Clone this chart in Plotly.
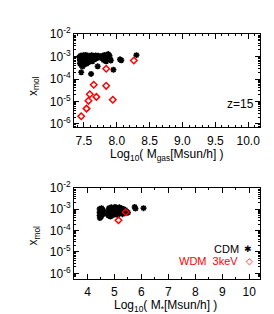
import plotly.graph_objects as go

# ---------------- data ----------------
# Top panel: x_mol vs log10 M_gas
cdm_gas_x = [7.43, 7.44, 7.44, 7.45, 7.45, 7.46, 7.46, 7.47, 7.47, 7.48, 7.48, 7.49, 7.49,
             7.50, 7.50, 7.51, 7.51, 7.52, 7.52, 7.53, 7.53, 7.54, 7.54, 7.55, 7.55, 7.56,
             7.57, 7.57, 7.58, 7.59, 7.59, 7.60, 7.61, 7.62, 7.62, 7.63, 7.64, 7.65, 7.66,
             7.67, 7.68, 7.69, 7.70, 7.71, 7.72, 7.74, 7.76, 7.78, 7.79, 7.80, 7.81, 7.82,
             7.83, 7.84, 7.85, 7.86, 7.87, 7.88, 7.89, 7.90, 7.91,
             7.46, 7.61, 7.71, 7.95, 8.05, 8.07, 8.30]
cdm_gas_y = [9.5e-4, 7e-4, 5e-4, 1.1e-3, 8e-4, 6e-4, 4.2e-4, 1.0e-3, 7.5e-4, 5.5e-4, 3.6e-4,
             1.15e-3, 8.5e-4, 6.5e-4, 4.5e-4, 1.0e-3, 7.2e-4, 5.2e-4, 9e-4, 1.2e-3, 6.2e-4,
             8e-4, 4.8e-4, 1.05e-3, 6.8e-4, 9.2e-4, 5.6e-4, 7.8e-4, 1.1e-3, 8.6e-4, 6.5e-4,
             1.0e-3, 7.2e-4, 9e-4, 1.15e-3, 6.2e-4, 8.2e-4, 1.05e-3, 7.5e-4, 9.5e-4, 1.12e-3,
             8.5e-4, 1.0e-3, 9e-4, 1.1e-3, 9.5e-4, 1.05e-3, 8.5e-4, 1.1e-3, 7e-4, 9.5e-4,
             1.2e-3, 8e-4, 6.2e-4, 1.0e-3, 7.5e-4, 1.3e-3, 9e-4, 1.1e-3, 8e-4, 6.7e-4,
             2.0e-4, 1.7e-4, 3.7e-4, 2.6e-4, 7.6e-4, 6.9e-4, 1.17e-3]
wdm_gas_x = [7.46, 7.54, 7.57, 7.59, 7.65, 7.69, 7.84, 7.84, 7.94, 8.26]
wdm_gas_y = [2.2e-6, 4.8e-6, 1.07e-5, 2.1e-5, 5.6e-5, 1.6e-5, 5.0e-5, 2.9e-4, 1.2e-5, 6.7e-4]

# Bottom panel: x_mol vs log10 M_*
cdm_star_x = [4.45, 4.45, 4.45, 4.46, 4.48, 4.49, 4.50, 4.52, 4.53, 4.55, 4.57, 4.60, 4.65,
              4.70, 4.75, 4.78, 4.80, 4.82, 4.83, 4.85, 4.88, 4.90, 4.92, 4.95, 4.97, 5.00,
              5.02, 5.04, 5.06, 5.08, 5.10, 5.12, 5.14, 5.16, 5.18, 5.20, 5.22, 5.25, 5.27,
              5.30, 5.32, 5.35, 5.38, 5.40, 5.45, 5.50, 5.75, 5.78, 6.08]
cdm_star_y = [1.0e-3, 7e-4, 5e-4, 3.8e-4, 8.5e-4, 6e-4, 4.3e-4, 1.1e-3, 7.5e-4, 5.5e-4, 9e-4,
              6.5e-4, 7e-4, 6e-4, 7.5e-4, 5e-4, 1.1e-3, 8.5e-4, 6.3e-4, 4.5e-4, 1.2e-3, 9e-4,
              7e-4, 5.2e-4, 1.05e-3, 8e-4, 1.25e-3, 6e-4, 9.5e-4, 1.15e-3, 7.2e-4, 5.2e-4,
              1.0e-3, 8.5e-4, 1.2e-3, 6.5e-4, 9.5e-4, 1.1e-3, 7.8e-4, 5.8e-4, 1.0e-3, 8.2e-4,
              6.5e-4, 9.2e-4, 7.5e-4, 6.8e-4, 1.25e-3, 1.05e-3, 1.1e-3]
wdm_star_x = [5.15, 5.42]
wdm_star_y = [3.0e-4, 7.1e-4]

y_tickvals = [1e-6, 1e-5, 1e-4, 1e-3, 1e-2]
y_ticktext = ["10<sup>-6</sup>", "10<sup>-5</sup>", "10<sup>-4</sup>", "10<sup>-3</sup>", "10<sup>-2</sup>"]
top_x_ticks = [7.5, 8.0, 8.5, 9.0, 9.5, 10.0]
top_x_text = ["7.5", "8.0", "8.5", "9.0", "9.5", "10.0"]
bot_x_ticks = [4, 5, 6, 7, 8, 9, 10]
bot_x_text = ["4", "5", "6", "7", "8", "9", "10"]

# ---------------- figure ----------------
FONT = "Liberation Sans, Arial, sans-serif"
fig = go.Figure()

cdm_marker = dict(symbol="asterisk-open", size=5, color="black", line=dict(color="black", width=1.6))
wdm_marker = dict(symbol="diamond-open", size=5, color="red", line=dict(color="red", width=1.5))

fig.add_trace(go.Scatter(x=cdm_gas_x, y=cdm_gas_y, mode="markers", marker=cdm_marker,
                         xaxis="x", yaxis="y", showlegend=False))
fig.add_trace(go.Scatter(x=wdm_gas_x, y=wdm_gas_y, mode="markers", marker=wdm_marker,
                         xaxis="x", yaxis="y", showlegend=False))
fig.add_trace(go.Scatter(x=cdm_star_x, y=cdm_star_y, mode="markers", marker=cdm_marker,
                         xaxis="x2", yaxis="y2", showlegend=False))
fig.add_trace(go.Scatter(x=wdm_star_x, y=wdm_star_y, mode="markers", marker=wdm_marker,
                         xaxis="x2", yaxis="y2", showlegend=False))

H = 314.0
W = 274.0
xdom = [66 / W, 252 / W]
top_dom = [1 - 115 / H, 1 - 18 / H]
bot_dom = [1 - 273 / H, 1 - 178 / H]

common_axis = dict(showline=True, linecolor="black", linewidth=1, mirror="allticks",
                   ticks="inside", ticklen=5, tickcolor="black", showgrid=False, zeroline=False,
                   tickfont=dict(family=FONT, size=12, color="black"))

minor_y = [m * 10 ** e for e in range(-7, -2) for m in range(2, 10)]

fig.update_layout(
    width=274, height=314,
    margin=dict(l=0, r=0, t=0, b=0),
    paper_bgcolor="white", plot_bgcolor="white",
    font=dict(family=FONT, size=12, color="black"),
    xaxis=dict(domain=xdom, anchor="y", range=[7.35, 10.18], tickmode="array",
               tickvals=top_x_ticks, ticktext=top_x_text, ticklabelstandoff=2,
               minor=dict(ticks="inside", ticklen=2, dtick=0.1, tickcolor="black"),
               **common_axis),
    yaxis=dict(domain=top_dom, anchor="x", type="log", range=[-6.15, -2.0], tickmode="array",
               tickvals=y_tickvals, ticktext=y_ticktext,
               minor=dict(ticks="inside", ticklen=2, tickmode="array", tickvals=minor_y, tickcolor="black"),
               **common_axis),
    xaxis2=dict(domain=xdom, anchor="y2", range=[3.5, 10.4], tickmode="array",
                tickvals=bot_x_ticks, ticktext=bot_x_text, ticklabelstandoff=2,
                minor=dict(ticks="inside", ticklen=2, dtick=0.5, tickcolor="black"),
                **common_axis),
    yaxis2=dict(domain=bot_dom, anchor="x2", type="log", range=[-6.25, -2.0], tickmode="array",
                tickvals=y_tickvals, ticktext=y_ticktext,
                minor=dict(ticks="inside", ticklen=2, tickmode="array", tickvals=minor_y, tickcolor="black"),
                **common_axis),
    annotations=[
        dict(text="x<sub>mol</sub>", xref="paper", yref="paper", x=26 / W, y=1 - 72 / H,
             xanchor="center", yanchor="middle", textangle=-90, showarrow=False,
             font=dict(family=FONT, size=12, color="black")),
        dict(text="x<sub>mol</sub>", xref="paper", yref="paper", x=26 / W, y=1 - 228 / H,
             xanchor="center", yanchor="middle", textangle=-90, showarrow=False,
             font=dict(family=FONT, size=12, color="black")),
        dict(text="Log<sub>10</sub>( M<sub>gas</sub>[Msun/h] )", xref="paper", yref="paper",
             x=159 / W, y=1 - 144 / H, xanchor="center", yanchor="middle", showarrow=False,
             font=dict(family=FONT, size=12, color="black")),
        dict(text="Log<sub>10</sub>( M<sub>*</sub>[Msun/h] )", xref="paper", yref="paper",
             x=157 / W, y=1 - 301 / H, xanchor="center", yanchor="middle", showarrow=False,
             font=dict(family=FONT, size=12, color="black")),
        dict(text="z=15", xref="paper", yref="paper", x=248 / W, y=1 - 91 / H,
             xanchor="right", yanchor="middle", showarrow=False,
             font=dict(family=FONT, size=12, color="black")),
        dict(text="CDM", xref="paper", yref="paper", x=232 / W, y=1 - 242.5 / H,
             xanchor="right", yanchor="middle", showarrow=False, borderpad=0,
             font=dict(family=FONT, size=11, color="black")),
        dict(text="✱", xref="paper", yref="paper", x=240 / W, y=1 - 242.5 / H,
             xanchor="center", yanchor="middle", showarrow=False, borderpad=0,
             font=dict(family="DejaVu Sans", size=9, color="black")),
        dict(text="WDM  3keV", xref="paper", yref="paper", x=231 / W, y=1 - 255 / H,
             xanchor="right", yanchor="middle", showarrow=False, borderpad=0,
             font=dict(family=FONT, size=11, color="red")),
        dict(text="◇", xref="paper", yref="paper", x=241 / W, y=1 - 255 / H,
             xanchor="center", yanchor="middle", showarrow=False, borderpad=0,
             font=dict(family="DejaVu Sans", size=9, color="red")),
    ],
)

fig.write_html("out.html")
